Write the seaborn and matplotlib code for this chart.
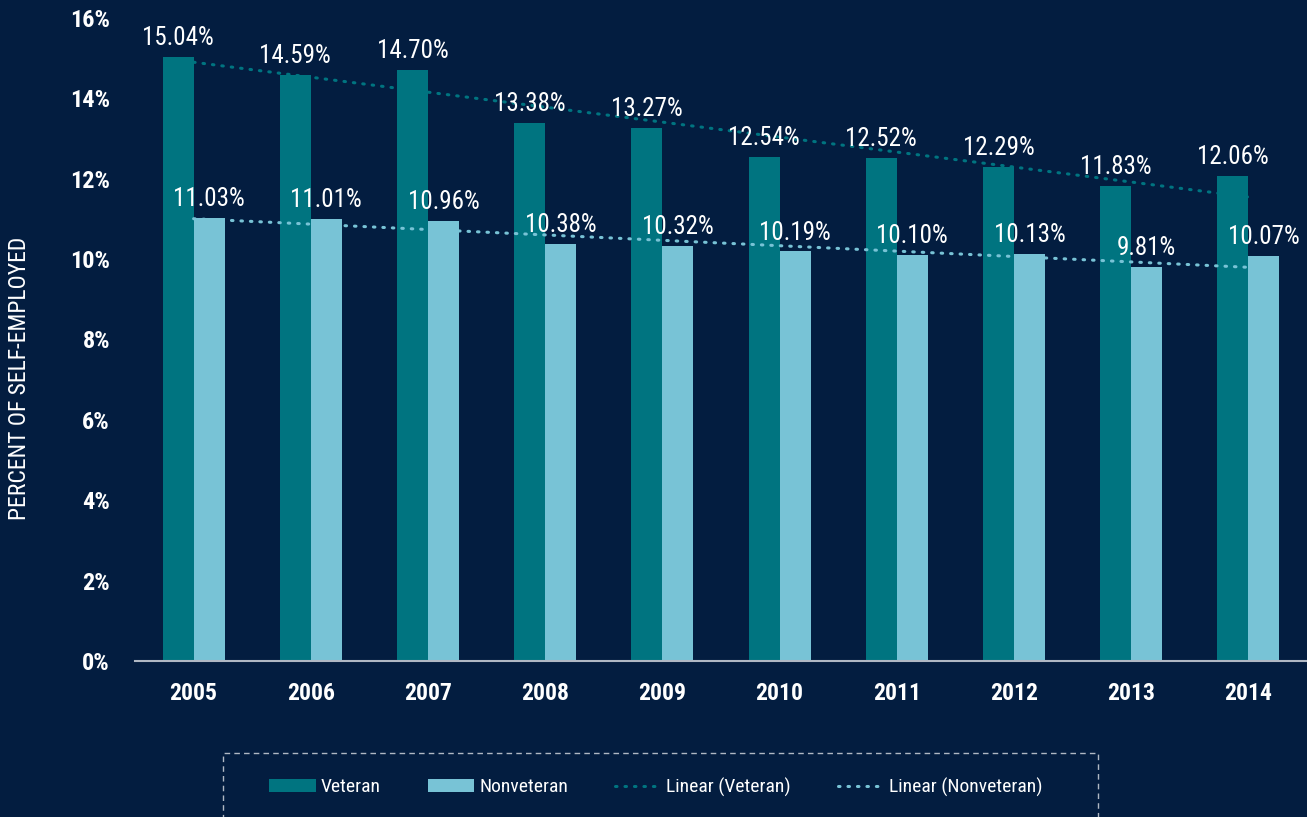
import numpy as np
import pandas as pd
import seaborn as sns
import matplotlib.pyplot as plt
from matplotlib.patches import Rectangle, Patch
from matplotlib.lines import Line2D

years = ["2005", "2006", "2007", "2008", "2009", "2010", "2011", "2012", "2013", "2014"]
veteran = [15.04, 14.59, 14.70, 13.38, 13.27, 12.54, 12.52, 12.29, 11.83, 12.06]
nonveteran = [11.03, 11.01, 10.96, 10.38, 10.32, 10.19, 10.10, 10.13, 9.81, 10.07]
series_names = ["Veteran", "Nonveteran"]

bg = "#031d40"
c_vet = "#007480"
c_non = "#78c3d6"

df = pd.DataFrame({
    "year": years * 2,
    "value": veteran + nonveteran,
    "series": [series_names[0]] * len(years) + [series_names[1]] * len(years),
})

sns.set_style("dark")
plt.rcParams["font.family"] = ["DejaVu Sans Condensed", "Liberation Sans Narrow", "Roboto Condensed", "Liberation Sans"]

fig = plt.figure(figsize=(13.07, 8.17), dpi=100, facecolor=bg)
ax = fig.add_axes([0.1033, 0.191, 0.8967, 0.787])
ax.set_facecolor(bg)

sns.barplot(data=df, x="year", y="value", hue="series", palette=[c_vet, c_non],
            width=0.53, ax=ax, legend=False, saturation=1, linewidth=0)

# value labels
for cont in ax.containers:
    ax.bar_label(cont, labels=[f"{v:.2f}%" for v in cont.datavalues], padding=5,
                 color="white", fontsize=18)

# linear trend lines
x = np.arange(len(years))
for vals, col in [(veteran, c_vet), (nonveteran, c_non)]:
    k, b = np.polyfit(x, vals, 1)
    ax.plot(x, k * x + b, linestyle=(0, (0.5, 2.6)), dash_capstyle="round",
            color=col, linewidth=2.2)

ax.set_xlim(-0.5, len(years) - 0.5)
ax.set_ylim(0, 16)
ax.set_yticks(range(0, 17, 2))
ax.set_yticklabels([f"{t}%" for t in range(0, 17, 2)], fontsize=17.5, fontweight="bold", color="white")
ax.tick_params(axis="y", length=0, pad=18)
ax.set_xticks(x)
ax.set_xticklabels(years, fontsize=17, fontweight="bold", color="white")
ax.set_xticks(np.arange(-0.5, len(years), 1), minor=True)
ax.tick_params(axis="x", which="major", length=0, pad=15)
ax.tick_params(axis="x", which="minor", length=7, width=1.5, color="#b0b8c4")
ax.set_xlabel("")
ax.set_ylabel("")
ax.grid(False)
for s in ["top", "right", "left"]:
    ax.spines[s].set_visible(False)
ax.spines["bottom"].set_color("#b0b8c4")
ax.spines["bottom"].set_linewidth(1.5)

fig.text(20 / 1307, 1 - 378 / 817, "PERCENT OF SELF-EMPLOYED", rotation=90,
         ha="center", va="center", fontsize=17, color="white")

# legend box
fig.patches.append(Rectangle((223 / 1307, -0.02), 875 / 1307, (817 - 753) / 817 + 0.02,
                             transform=fig.transFigure, fill=False, edgecolor="#b0b8c4",
                             linestyle=(0, (4, 3)), linewidth=1))
handles = [
    Patch(facecolor=c_vet, edgecolor="none", label="Veteran"),
    Patch(facecolor=c_non, edgecolor="none", label="Nonveteran"),
    Line2D([], [], color=c_vet, linestyle=(0, (0.5, 2.6)), linewidth=2.2, dash_capstyle="round", label="Linear (Veteran)"),
    Line2D([], [], color=c_non, linestyle=(0, (0.5, 2.6)), linewidth=2.2, dash_capstyle="round", label="Linear (Nonveteran)"),
]
leg = fig.legend(handles=handles, loc="center", bbox_to_anchor=(656 / 1307, 1 - 787 / 817),
                 ncol=4, frameon=False, fontsize=14, labelcolor="white",
                 handlelength=2.4, handleheight=0.6, handletextpad=0.25, columnspacing=2.4)

fig.savefig("out.png", dpi=100, facecolor=bg)
